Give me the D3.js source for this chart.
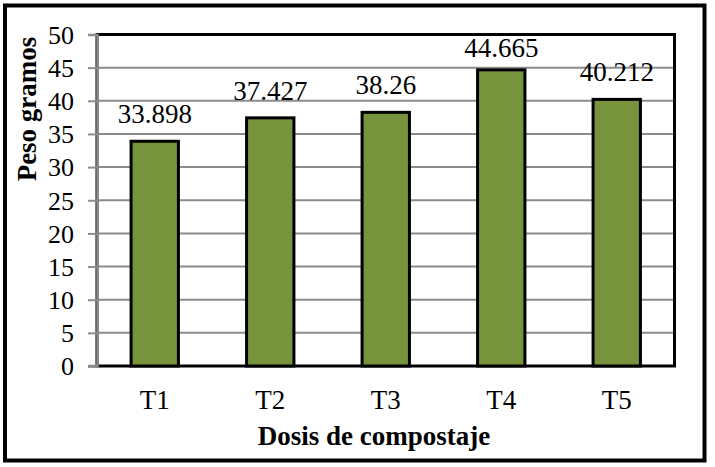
<!DOCTYPE html>
<html>
<head>
<meta charset="utf-8">
<script src="https://cdn.jsdelivr.net/npm/d3@7"></script>
<style>
  html, body { margin: 0; padding: 0; background: #fff; }
  svg { display: block; }
  text { font-family: "Liberation Serif", "Times New Roman", serif; fill: #000; }
</style>
</head>
<body>
<svg id="chart" width="715" height="467"></svg>
<script>
const categories = ["T1", "T2", "T3", "T4", "T5"];
const values = [33.898, 37.427, 38.26, 44.665, 40.212];
const valueLabels = ["33.898", "37.427", "38.26", "44.665", "40.212"];
const yTicks = [0, 5, 10, 15, 20, 25, 30, 35, 40, 45, 50];
const xTitle = "Dosis de compostaje";
const yTitle = "Peso gramos";

const W = 715, H = 467;
const plot = { left: 97, top: 34.5, right: 674.5, bottom: 366 };
const svg = d3.select("#chart");

svg.append("rect").attr("x", 0).attr("y", 0).attr("width", W).attr("height", H).attr("fill", "#fff");
// outer frame
svg.append("rect").attr("x", 5).attr("y", 5.5).attr("width", 699.5).attr("height", 455)
  .attr("fill", "none").attr("stroke", "#000").attr("stroke-width", 4);

const x = d3.scaleBand().domain(categories).range([plot.left, plot.right]).paddingInner(0.59).paddingOuter(0.295);
const y = d3.scaleLinear().domain([0, 50]).range([plot.bottom, plot.top]);

// gridlines
svg.append("g").selectAll("line").data(yTicks.filter(t => t > 0 && t < 50)).join("line")
  .attr("x1", plot.left).attr("x2", plot.right)
  .attr("y1", d => y(d)).attr("y2", d => y(d))
  .attr("stroke", "#8c8c8c").attr("stroke-width", 2);

// plot area border (top/right black)
svg.append("rect").attr("x", plot.left).attr("y", plot.top)
  .attr("width", plot.right - plot.left).attr("height", plot.bottom - plot.top)
  .attr("fill", "none").attr("stroke", "#000").attr("stroke-width", 3);

// y axis
const yAxis = d3.axisLeft(y).tickValues(yTicks).tickSize(9).tickPadding(14).tickFormat(d3.format("d"));
const gy = svg.append("g").attr("transform", `translate(${plot.left},0)`).call(yAxis);
gy.select(".domain").attr("stroke", "#8c8c8c").attr("stroke-width", 2.5);
gy.selectAll(".tick line").attr("stroke", "#8c8c8c").attr("stroke-width", 2);
gy.selectAll(".tick text").attr("font-size", 26).attr("font-family", "Liberation Serif").attr("dy", "0.34em").attr("fill", "#000");

// bars
svg.append("g").selectAll("rect").data(values).join("rect")
  .attr("x", (d, i) => x(categories[i]))
  .attr("y", d => y(d))
  .attr("width", x.bandwidth())
  .attr("height", d => y(0) - y(d))
  .attr("fill", "#77933c").attr("stroke", "#000").attr("stroke-width", 3);

// x axis line
const xAxis = d3.axisBottom(x).tickSize(0).tickPadding(24);
const gx = svg.append("g").attr("transform", `translate(0,${plot.bottom})`).call(xAxis);
gx.select(".domain").remove();
svg.append("line").attr("x1", plot.left - 9).attr("x2", plot.left + 1)
  .attr("y1", plot.bottom).attr("y2", plot.bottom).attr("stroke", "#8c8c8c").attr("stroke-width", 2.5);
gx.selectAll(".tick text").attr("font-size", 27).attr("font-family", "Liberation Serif").attr("fill", "#000")
  .attr("dy", "0.71em");

// value labels
svg.append("g").selectAll("text").data(values).join("text")
  .attr("x", (d, i) => x(categories[i]) + x.bandwidth() / 2)
  .attr("y", d => Math.max(y(d) - 18, plot.top + 22))
  .attr("text-anchor", "middle").attr("font-size", 27)
  .text((d, i) => valueLabels[i]);

// titles
svg.append("text").attr("x", 374).attr("y", 445).attr("text-anchor", "middle")
  .attr("font-size", 27).attr("font-weight", "bold").text(xTitle);
svg.append("text").attr("transform", "translate(36,109) rotate(-90)").attr("text-anchor", "middle")
  .attr("font-size", 27).attr("font-weight", "bold").text(yTitle);
</script>
</body>
</html>
